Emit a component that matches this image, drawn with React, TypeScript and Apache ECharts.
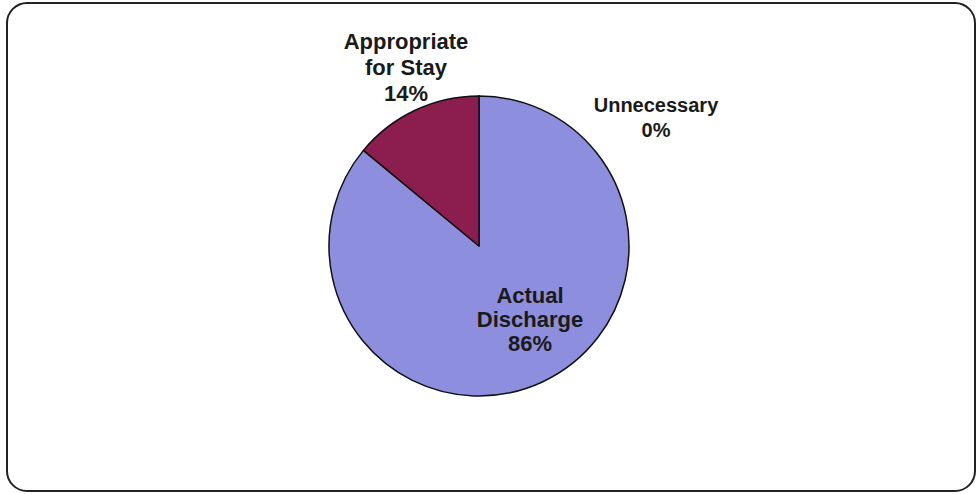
import React, { useEffect, useRef } from "react";
import * as echarts from "echarts";

const categories = ["Unnecessary", "Actual\nDischarge", "Appropriate\nfor Stay"];
const values = [0, 86, 14];
const colors = ["#8e8ede", "#8e8ede", "#8b1d4f"];
// label anchor points and sizes (pixel layout, not data)
const labelAnchors = [
  { x: 656, y: 117, size: 20, lh: 25 },
  { x: 530, y: 319, size: 22, lh: 24 },
  { x: 406, y: 67, size: 22, lh: 26 },
];

export default function App() {
  const ref = useRef<HTMLDivElement>(null);
  useEffect(() => {
    document.body.style.margin = "0";
    const chart = echarts.init(ref.current!, undefined, { renderer: "svg" });
    chart.setOption({
      animation: false,
      backgroundColor: "#ffffff",
      graphic: [
        {
          type: "rect",
          shape: { x: 7, y: 3, width: 968, height: 488, r: 20 },
          style: { fill: "none", stroke: "#222", lineWidth: 2 },
          silent: true,
        },
      ],
      series: [
        {
          type: "pie",
          center: [479, 246],
          radius: 150,
          startAngle: 90,
          clockwise: true,
          minShowLabelAngle: 0,
          data: categories.map((name, i) => ({
            name,
            value: values[i],
            itemStyle: { color: colors[i] },
            label: {
              position: i === 1 ? "inside" : "outside",
              fontSize: labelAnchors[i].size,
              lineHeight: labelAnchors[i].lh,
            },
          })),
          itemStyle: { borderColor: "#111", borderWidth: 1.5 },
          labelLine: { show: false },
          label: {
            show: true,
            formatter: "{b}\n{d}%",
            fontFamily: "Liberation Sans, Arial, sans-serif",
            fontWeight: "bold",
            color: "#1a1a1a",
            align: "center",
          },
          labelLayout: (params: any) => {
            const a = labelAnchors[params.dataIndex];
            return { x: a.x, y: a.y, align: "center", verticalAlign: "middle" };
          },
        },
      ],
    });
    return () => chart.dispose();
  }, []);
  return <div ref={ref} style={{ width: 977, height: 494 }} />;
}
